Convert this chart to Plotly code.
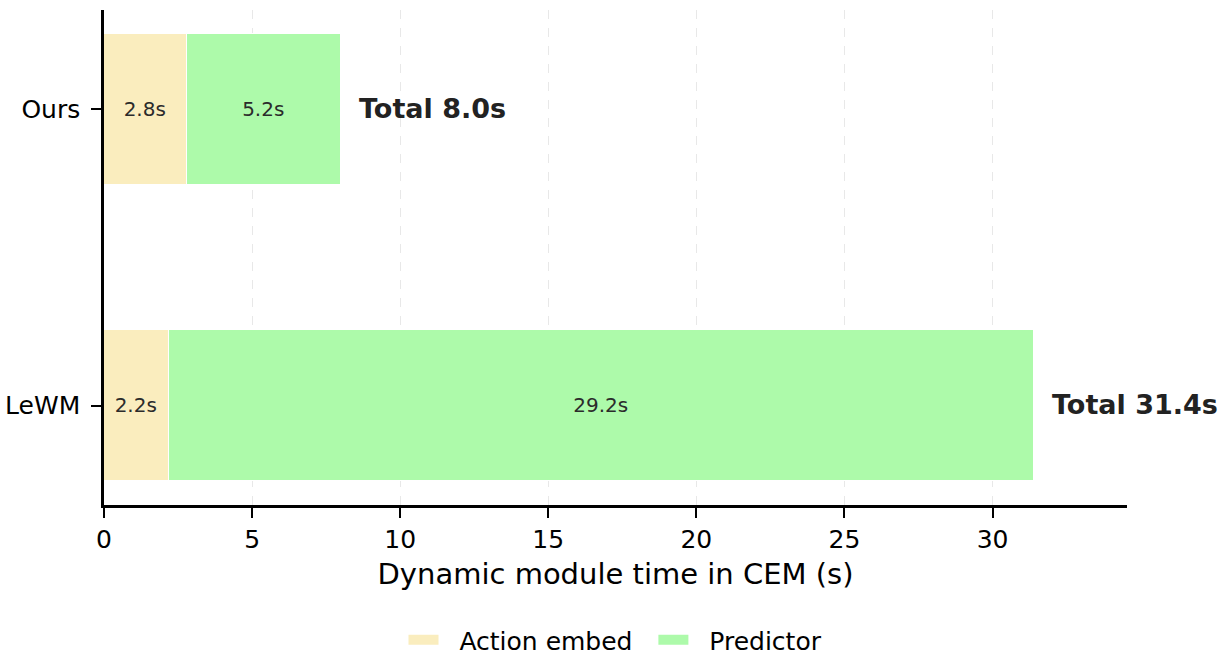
import plotly.graph_objects as go

methods = ["LeWM", "Ours"]
action_embed = [2.2, 2.8]
predictor = [29.2, 5.2]
totals = [31.4, 8.0]
x_ticks = [0, 5, 10, 15, 20, 25, 30]

COL_ACTION = "#FAEDBE"
COL_PRED = "#ADFAAA"
FONT = "DejaVu Sans"
NB = "\u00a0"

fig = go.Figure()
fig.add_trace(go.Bar(
    y=methods, x=action_embed, orientation="h", name="Action embed",
    marker=dict(color=COL_ACTION, line=dict(color="white", width=1.5)),
    width=0.51, showlegend=False,
    text=[f"{v:.1f}s" for v in action_embed], textposition="inside",
    insidetextanchor="middle", textangle=0,
    textfont=dict(family=FONT, size=20, color="#2b2b2b"),
    hoverinfo="skip",
))
fig.add_trace(go.Bar(
    y=methods, x=predictor, orientation="h", name="Predictor",
    marker=dict(color=COL_PRED, line=dict(color="white", width=1.5)),
    width=0.51, showlegend=False,
    text=[f"{v:.1f}s" for v in predictor], textposition="inside",
    insidetextanchor="middle", textangle=0,
    textfont=dict(family=FONT, size=20, color="#2b2b2b"),
    hoverinfo="skip",
))
# legend entries (wide rectangular swatches like the reference)
for nm, col, trail in [("Action embed", COL_ACTION, NB * 2), ("Predictor", COL_PRED, "")]:
    fig.add_trace(go.Scatter(
        x=[None], y=[None], mode="lines", name=NB * 2 + nm + trail,
        line=dict(color=col, width=11), showlegend=True, hoverinfo="skip",
    ))

for m, t in zip(methods, totals):
    fig.add_annotation(
        x=t + 0.55, y=m, text=f"<b>Total {t:.1f}s</b>", showarrow=False,
        xanchor="left", yanchor="middle", yshift=1,
        font=dict(family=FONT, size=27, color="#222222"),
    )

fig.update_layout(
    width=1224, height=662,
    barmode="stack", bargap=0,
    plot_bgcolor="white", paper_bgcolor="white",
    margin=dict(l=104, r=97, t=10, b=157, autoexpand=False),
    font=dict(family=FONT, color="black", size=25),
    showlegend=True,
    legend=dict(
        orientation="h", x=0.5, xanchor="center",
        yref="container", y=1 - 640 / 662, yanchor="middle",
        font=dict(family=FONT, size=25, color="black"),
        traceorder="normal",
    ),
)
fig.update_xaxes(
    range=[0, 34.54], tickvals=x_ticks, ticktext=[str(v) for v in x_ticks],
    showline=True, linecolor="black", linewidth=2.5,
    ticks="outside", ticklen=10, tickwidth=2, tickcolor="black",
    tickfont=dict(family=FONT, size=25, color="black"),
    ticklabelstandoff=0,
    showgrid=True, gridcolor="#e8e8e8", griddash="dash", gridwidth=1.2,
    zeroline=False,
    title=dict(text="Dynamic module time in CEM (s)", standoff=11,
               font=dict(family=FONT, size=29, color="black")),
)
fig.update_yaxes(
    range=[-0.335, 1.335], categoryorder="array", categoryarray=methods,
    showline=True, linecolor="black", linewidth=2.5,
    ticks="outside", ticklen=10, tickwidth=2, tickcolor="black",
    tickfont=dict(family=FONT, size=25, color="black"),
    ticklabelstandoff=6,
    showgrid=False, zeroline=False,
)

fig.write_html("out.html", config={"displayModeBar": False},
               post_script="document.body.style.margin='0';")
